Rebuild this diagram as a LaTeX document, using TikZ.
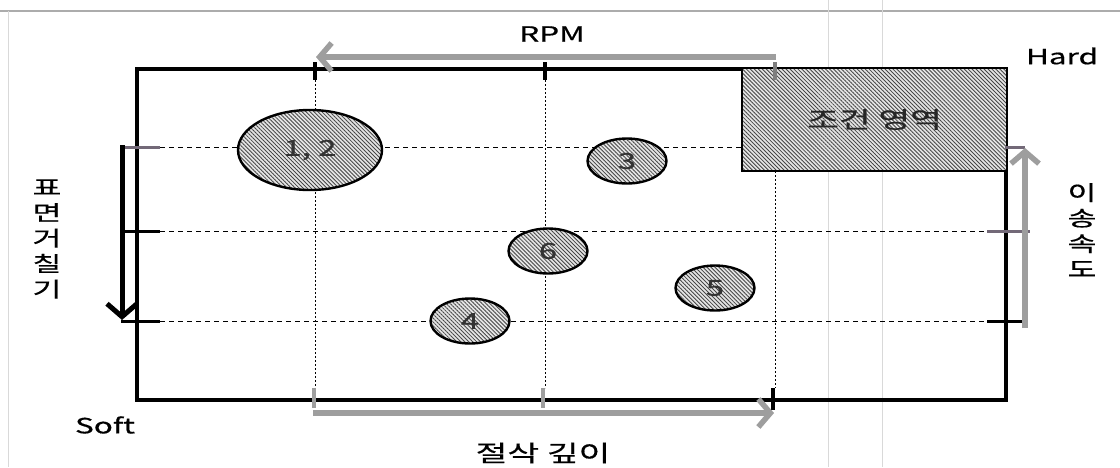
\documentclass[tikz,border=0pt]{standalone}
\usepackage{fontspec}
\setmainfont{Noto Sans CJK KR}[FakeStretch=1.5,FakeBold=0.6]
\usetikzlibrary{shapes.geometric,arrows.meta,patterns.meta}
\definecolor{agray}{RGB}{158,158,158}
\definecolor{tickp}{RGB}{115,105,120}
\begin{document}
\begin{tikzpicture}[x=1pt,y=-1pt,
  hatch/.style={pattern={Lines[angle=-45,distance=2.8pt,line width=0.85pt]}, pattern color=black!72},
  blob/.style={ellipse, draw, line width=2.4pt, preaction={fill=gray!20}, hatch, inner sep=0pt,
    font=\fontsize{22}{22}\selectfont, text=black!80},
  zonebox/.style={draw, line width=2.8pt, preaction={fill=gray!20}, hatch, inner sep=0pt,
    font=\fontsize{23}{23}\selectfont, text=black!85},
  lbl/.style={font=\fontsize{21}{24}\selectfont, inner sep=0pt},
  klbl/.style={font=\fontsize{23}{26}\selectfont, inner sep=0pt},
  vlbl/.style={font=\fontsize{21}{25.5}\selectfont, inner sep=0pt, align=center},
  hgrid/.style={line width=1pt, dash pattern=on 5pt off 4pt},
  vgrid/.style={line width=1pt, dash pattern=on 2pt off 2pt},
  garrow/.style={draw=agray, line width=5.5pt, -{Straight Barb[length=12pt,width=28pt]}},
  barrow/.style={draw=black, line width=5pt, -{Straight Barb[length=13pt,width=30pt]}},
  tickmark/.style={line width=4pt},
  scanline/.style={draw=gray!30, line width=0.7pt}
]
\useasboundingbox (0,0) rectangle (1120,467);
\fill[white] (0,0) rectangle (1120,467);
% faint scan lines
\draw[gray!65, line width=1.2pt] (0,11) -- (1120,11);
\draw[scanline] (8,11) -- (8,467);
\draw[scanline] (828,0) -- (828,467);
\draw[scanline] (882,0) -- (882,467);
% grid
\draw[hgrid] (160,147) -- (742,147);
\draw[hgrid] (160,231) -- (987,231);
\draw[hgrid] (160,321) -- (987,321);
\draw[vgrid] (315,80) -- (315,388);
\draw[vgrid] (545,80) -- (545,388);
\draw[vgrid] (775,171) -- (775,388);
% frame
\draw[line width=3.2pt] (137,69) rectangle (1006,400);
% condition zone
\node[zonebox, minimum width=265pt, minimum height=103pt] (zone) at (874.5,119.5) {조건 영역};
% points
\node[blob, minimum width=144pt, minimum height=80pt] (p12) at (310,150) {1, 2};
\node[blob, minimum width=79pt, minimum height=45pt] (p3) at (627,161) {3};
\node[blob, minimum width=79pt, minimum height=45pt] (p6) at (548,251) {6};
\node[blob, minimum width=79pt, minimum height=45pt] (p5) at (715,288) {5};
\node[blob, minimum width=79pt, minimum height=45pt] (p4) at (470,321) {4};
% ticks
\draw[tickmark] (315,62) -- (315,80);
\draw[tickmark] (545,62) -- (545,80);
\draw[tickmark, agray!80!black] (775,62) -- (775,80);
\draw[tickmark, agray] (314,388) -- (314,408);
\draw[tickmark, agray] (543,388) -- (543,408);
\draw[tickmark] (773,388) -- (773,410);
\draw[tickmark, tickp, line width=3pt] (123,147) -- (160,147);
\draw[tickmark, line width=3pt] (123,231) -- (160,231);
\draw[tickmark, line width=3pt] (121,321) -- (160,321);
\draw[tickmark, tickp, line width=3pt] (1005,147) -- (1025,147);
\draw[tickmark, tickp, line width=3pt] (987,231) -- (1030,231);
\draw[tickmark, line width=3pt] (987,321) -- (1022,321);
% arrows
\coordinate (rpmS) at (776,57);
\coordinate (rpmE) at (316,57);
\draw[garrow] (rpmS) -- (rpmE);
\coordinate (depS) at (313,413);
\coordinate (depE) at (774,413);
\draw[garrow] (depS) -- (depE);
\coordinate (feedS) at (1025,328);
\coordinate (feedE) at (1025,148);
\draw[garrow] (feedS) -- (feedE);
\coordinate (rouS) at (122,145);
\coordinate (rouE) at (122,320);
\draw[barrow] (rouS) -- (rouE);
% labels
\node[lbl] (rpm) at (552,34) {RPM};
\node[lbl] (hard) at (1062,56) {Hard};
\node[lbl] (soft) at (105,425) {Soft};
\node[klbl] (depth) at (543,453) {절삭 깊이};
\node[vlbl] (rough) at (47,239) {표\\면\\거\\칠\\기};
\node[vlbl] (feed) at (1082,230) {이\\송\\속\\도};
\end{tikzpicture}
\end{document}
